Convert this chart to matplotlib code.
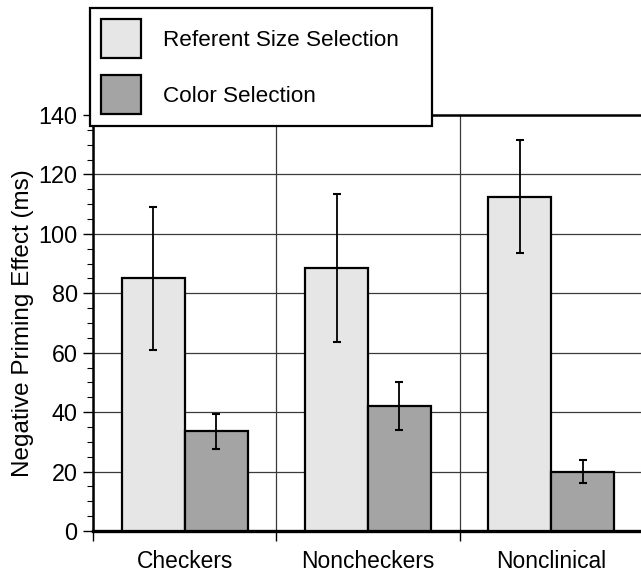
import numpy as np
import matplotlib
matplotlib.use("Agg")
import matplotlib.pyplot as plt
from matplotlib.ticker import MultipleLocator, FixedLocator, NullFormatter

plt.rcParams['font.family'] = ['Liberation Sans', 'DejaVu Sans']

# Data
groups = ["Checkers", "Noncheckers", "Nonclinical"]
referent_size = [85, 88.5, 112.5]
referent_err = [24, 25, 19]
color_sel = [33.5, 42, 20]
color_err = [6, 8, 4]
series_names = ["Referent Size Selection", "Color Selection"]

fig = plt.figure(figsize=(6.41, 5.73), dpi=100)
ax = fig.add_axes([93 / 641, 1 - 531 / 573, 550 / 641, 416 / 573])

x = np.arange(len(groups))
w = 0.343

ax.bar(x - w / 2, referent_size, w, color='#e6e6e6', edgecolor='black',
       linewidth=1.6, label=series_names[0], zorder=3)
ax.bar(x + w / 2, color_sel, w, color='#a4a4a4', edgecolor='black',
       linewidth=1.6, label=series_names[1], zorder=3)
ax.errorbar(x - w / 2, referent_size, yerr=referent_err, fmt='none',
            ecolor='black', elinewidth=1.3, capsize=3, capthick=1.5, zorder=4)
ax.errorbar(x + w / 2, color_sel, yerr=color_err, fmt='none',
            ecolor='black', elinewidth=1.3, capsize=3, capthick=1.5, zorder=4)

ax.set_xlim(-0.5, len(groups) - 0.5)
ax.set_ylim(0, 140)

# y ticks
ax.yaxis.set_major_locator(MultipleLocator(20))
ax.yaxis.set_minor_locator(MultipleLocator(5))
ax.tick_params(axis='y', which='major', length=7, width=1, pad=4, labelsize=16.8)
ax.tick_params(axis='y', which='minor', length=4, width=0.8)

# x ticks: marks at group boundaries, labels at centres
ax.xaxis.set_major_locator(FixedLocator(np.arange(len(groups) + 1) - 0.5))
ax.xaxis.set_major_formatter(NullFormatter())
ax.set_xticks(x, groups, minor=True)
ax.tick_params(axis='x', which='major', length=7, width=1)
ax.tick_params(axis='x', which='minor', length=0, pad=14, labelsize=16.4)

ax.grid(True, which='major', color='#3a3a3a', linewidth=0.9, zorder=0)
ax.set_axisbelow(True)

for side in ['left', 'top']:
    ax.spines[side].set_linewidth(1.8)
ax.spines['bottom'].set_linewidth(2.4)

ax.set_ylabel("Negative Priming Effect (ms)", fontsize=17.5, labelpad=3)

leg = ax.legend(loc='upper left', mode='expand',
                bbox_to_anchor=(90 / 641, 1 - 125 / 573, 342 / 641, 117 / 573),
                bbox_transform=fig.transFigure, borderaxespad=0,
                fontsize=16.2, handlelength=1.75, handleheight=2.3,
                handletextpad=1.0, labelspacing=0.75, borderpad=0.5,
                fancybox=False, framealpha=1, edgecolor='black')
leg.get_frame().set_linewidth(1.6)
leg.set_zorder(10)

fig.savefig("out.png", dpi=100)
